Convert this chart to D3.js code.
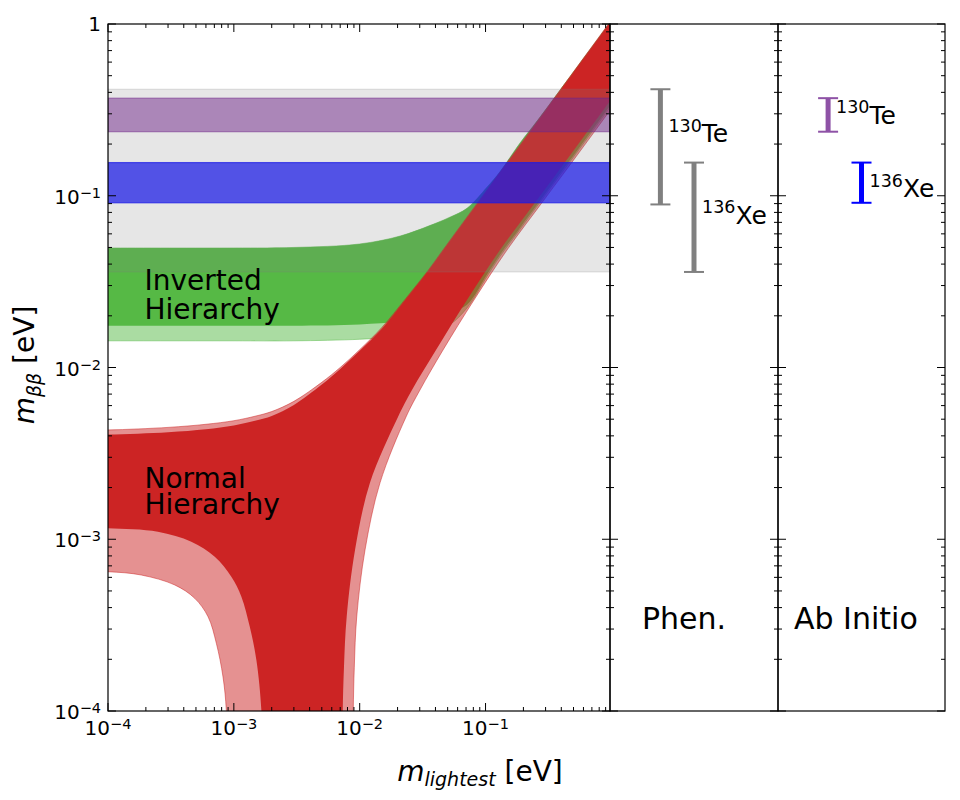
<!DOCTYPE html>
<html><head><meta charset="utf-8">
<script src="https://cdn.jsdelivr.net/npm/d3@7"></script>
<style>body{margin:0;background:#fff} svg{display:block} text{font-family:"DejaVu Sans",sans-serif;fill:#000}</style>
</head><body><svg id="c" width="960" height="800"></svg>
<script>
// ---------------- data ----------------
const isoMass = ["130", "136"];
const isoName = ["Te", "Xe"];
const isoPos = [0.3, 0.5];
const phenLow = [0.089, 0.036];
const phenHigh = [0.417, 0.156];
const abLow = [0.236, 0.091];
const abHigh = [0.370, 0.156];
const phenLabelY = [0.205, 0.0685];
const abLabelY = [0.262, 0.098];
const abColors = ["#8e52a6", "#0000ff"];

// Normal hierarchy band (1 sigma = dark, 3 sigma = light)
const nhUpperX = [1e-4, 3e-4, 6e-4, 1e-3, 1.5e-3, 2e-3, 3e-3, 5e-3, 7e-3, 0.01, 0.015, 0.023, 0.035, 0.046, 0.1, 0.3, 1];
const nhUpper1s = [4.07e-3, 4.2e-3, 4.37e-3, 4.6e-3, 4.91e-3, 5.22e-3, 6.05e-3, 7.95e-3, 9.8e-3, 0.0125, 0.0168, 0.0247, 0.0365, 0.048, 0.1045, 0.313, 1.045];
const nhUpper3s = [4.33e-3, 4.48e-3, 4.67e-3, 4.9e-3, 5.22e-3, 5.54e-3, 6.35e-3, 8.2e-3, 1.0e-2, 0.0127, 0.0171, 0.0250, 0.0368, 0.0485, 0.1055, 0.316, 1.055];
const nhRight1sX = [7.25e-3, 7.33e-3, 7.50e-3, 7.88e-3, 9.18e-3, 0.01207, 0.02015, 0.02603, 0.0404, 0.0712, 0.1302, 0.2563, 0.5044, 0.9748];
const nhRight1sY = [5e-5, 1e-4, 1.80e-4, 3.53e-4, 8.66e-4, 2.13e-3, 5.15e-3, 7.40e-3, 0.01264, 0.02472, 0.04831, 0.09447, 0.1846, 0.3561];
const nhRight3sX = [8.85e-3, 8.89e-3, 9.06e-3, 9.47e-3, 0.01102, 0.0145, 0.02333, 0.03013, 0.04591, 0.08093, 0.1481, 0.2913, 0.5733, 1.0];
const nhRight3sY = [5e-5, 1e-4, 1.80e-4, 3.53e-4, 8.66e-4, 2.13e-3, 5.15e-3, 7.40e-3, 0.01264, 0.02472, 0.04831, 0.09447, 0.1846, 0.322];
const nhLeft1sX = [1.69e-3, 1.655e-3, 1.51e-3, 1.337e-3, 1.148e-3, 9.55e-4, 7.05e-4, 4.59e-4, 2.49e-4, 1e-4];
const nhLeft1sY = [5e-5, 1.01e-4, 1.98e-4, 3.10e-4, 4.63e-4, 6.05e-4, 7.91e-4, 9.68e-4, 1.107e-3, 1.16e-3];
const nhLeft3sX = [8.8e-4, 8.71e-4, 8.2e-4, 7.26e-4, 6.24e-4, 4.89e-4, 3.39e-4, 1.84e-4, 1e-4];
const nhLeft3sY = [5e-5, 1.01e-4, 1.58e-4, 2.48e-4, 3.54e-4, 4.53e-4, 5.42e-4, 6.19e-4, 6.47e-4];

// Inverted hierarchy band
const ihX = [1e-4, 1e-3, 3e-3, 0.01, 0.021, 0.036, 0.052, 0.0712, 0.103, 0.1302, 0.188, 0.2563, 0.392, 0.5044, 0.943, 1.0];
const ihUpper = [0.0497, 0.0497, 0.0500, 0.0524, 0.0583, 0.0670, 0.0750, 0.0845, 0.1124, 0.138, 0.2028, 0.272, 0.413, 0.530, 0.987, 1.046];
const ihLower1s = [0.0175, 0.0175, 0.0175, 0.0178, 0.0185, 0.0196, 0.0210, 0.0232, 0.0349, 0.0453, 0.0652, 0.0886, 0.1350, 0.173, 0.323, 0.343];
const ihLower3s = [0.0143, 0.0143, 0.0143, 0.0146, 0.0152, 0.0163, 0.0178, 0.0222, 0.0340, 0.0443, 0.0638, 0.0868, 0.1322, 0.1695, 0.316, 0.336];

const xMajor = [1e-4, 1e-3, 1e-2, 1e-1];
const yMajor = [1e-4, 1e-3, 1e-2, 1e-1, 1];
const xTickExp = ["−4", "−3", "−2", "−1"];
const yTickExp = ["−4", "−3", "−2", "−1", null];

// ---------------- layout ----------------
const L = 108, R = 610, T = 24, B = 711;
const P2L = 610, P2R = 778, P3L = 778, P3R = 945;
const svg = d3.select("#c");
const x = d3.scaleLog().domain([1e-4, 0.975]).range([L, R]);
const y = d3.scaleLog().domain([1e-4, 1]).range([B, T]);
const xp2 = d3.scaleLinear().domain([0, 1]).range([P2L, P2R]);
const xp3 = d3.scaleLinear().domain([0, 1]).range([P3L, P3R]);

svg.append("defs").append("clipPath").attr("id", "clipMain")
  .append("rect").attr("x", L).attr("y", T).attr("width", R - L).attr("height", B - T);

const zip = (a, b) => a.map((v, i) => [v, b[i]]);
const extL = pts => [[pts[0][0] / 2, pts[0][1]], ...pts];
const extR = pts => { const l = pts[pts.length - 1]; return [...pts, [l[0] * 1.5, l[1] * 1.5]]; };
const line = d3.line().x(d => x(d[0])).y(d => y(d[1])).curve(d3.curveCatmullRom.alpha(0.5));
const poly = segs => segs.map((s, i) => i ? line(s).replace(/^M/, "L") : line(s)).join("") + "Z";

const g = svg.append("g").attr("clip-path", "url(#clipMain)");

const RED = "#cc2424", GREEN = "#56b945";
// IH band
const ihUp = extR(extL(zip(ihX, ihUpper)));
g.append("path").attr("d", poly([ihUp, extR(extL(zip(ihX, ihLower3s))).reverse()]))
  .attr("fill", GREEN).attr("fill-opacity", 0.5).attr("stroke", GREEN).attr("stroke-opacity", 0.5).attr("stroke-width", 1);
g.append("path").attr("d", poly([ihUp, extR(extL(zip(ihX, ihLower1s))).reverse()]))
  .attr("fill", GREEN);

// NH band
function nhPoly(ux, uy, rx, ry, lx, ly) {
  const up = extR(extL(zip(ux, uy)));
  const right = extR(zip(rx, ry)).reverse();
  const lp = zip(lx, ly); const last = lp[lp.length - 1];
  const left = [...lp, [last[0] / 2, last[1]]];
  return poly([up, right, left]);
}
g.append("path").attr("d", nhPoly(nhUpperX, nhUpper3s, nhRight3sX, nhRight3sY, nhLeft3sX, nhLeft3sY))
  .attr("fill", RED).attr("fill-opacity", 0.5).attr("stroke", RED).attr("stroke-opacity", 0.5).attr("stroke-width", 1);
g.append("path").attr("d", nhPoly(nhUpperX, nhUpper1s, nhRight1sX, nhRight1sY, nhLeft1sX, nhLeft1sY))
  .attr("fill", RED);

// horizontal bands from the NME ranges
function band(lo, hi, col, op) {
  g.append("rect").attr("x", L).attr("width", R - L)
    .attr("y", y(hi)).attr("height", y(lo) - y(hi))
    .attr("fill", col).attr("fill-opacity", op)
    .attr("stroke", col).attr("stroke-opacity", op).attr("stroke-width", 1.2);
}
band(abLow[0], abHigh[0], "#6d118d", 0.5);
band(abLow[1], abHigh[1], "#0000ff", 0.72);
band(d3.min(phenLow), d3.max(phenHigh), "#808080", 0.2);

// labels in main panel
function multi(lines, xs, ys) {
  lines.forEach((t, i) => svg.append("text").attr("x", xs).attr("y", ys[i]).attr("font-size", 28).text(t));
}
multi(["Inverted", "Hierarchy"], 144.5, [289.5, 318.5]);
multi(["Normal", "Hierarchy"], 144.5, [487.5, 513.5]);

// ---------------- error bars ----------------
function errorbars(sc, lo, hi, cols, labY) {
  lo.forEach((l, i) => {
    const cx = sc(isoPos[i]), col = cols[i];
    svg.append("line").attr("x1", cx).attr("x2", cx).attr("y1", y(l)).attr("y2", y(hi[i]))
      .attr("stroke", col).attr("stroke-width", 5);
    [l, hi[i]].forEach(v => svg.append("line").attr("x1", cx - 10).attr("x2", cx + 10)
      .attr("y1", y(v)).attr("y2", y(v)).attr("stroke", col).attr("stroke-width", 2));
    const t = svg.append("text").attr("x", cx + 8).attr("y", y(labY[i]));
    t.append("tspan").attr("font-size", 17.5).attr("dy", -10.6).text(isoMass[i]);
    t.append("tspan").attr("font-size", 25).attr("dy", 10.6).text(isoName[i]);
  });
}
errorbars(xp2, phenLow, phenHigh, ["#808080", "#808080"], phenLabelY);
errorbars(xp3, abLow, abHigh, abColors, abLabelY);

svg.append("text").attr("x", 642).attr("y", 629).attr("font-size", 30).text("Phen.");
svg.append("text").attr("x", 794).attr("y", 629).attr("font-size", 30).text("Ab Initio");

// ---------------- ticks & frames ----------------
const tg = svg.append("g").attr("stroke", "#000").attr("stroke-width", 1);
const isMajor = v => Math.abs(Math.log10(v) - Math.round(Math.log10(v))) < 1e-9;
const xTicks = x.ticks().filter(v => v >= 1e-4 && v <= 0.975);
xTicks.forEach(v => {
  const len = isMajor(v) ? 8 : 4, px = x(v);
  tg.append("line").attr("x1", px).attr("x2", px).attr("y1", B).attr("y2", B - len);
  tg.append("line").attr("x1", px).attr("x2", px).attr("y1", T).attr("y2", T + len);
});
const yTicks = y.ticks().filter(v => v >= 1e-4 && v <= 1);
yTicks.forEach(v => {
  const len = isMajor(v) ? 8 : 4, py = y(v);
  [[L, 1], [R, -1], [P2L, 1], [P2R, -1], [P3L, 1], [P3R, -1]].forEach(([sx, dir]) =>
    tg.append("line").attr("x1", sx).attr("x2", sx + dir * len).attr("y1", py).attr("y2", py));
});
[[L, R], [P2L, P2R], [P3L, P3R]].forEach(([a, b]) =>
  svg.append("rect").attr("x", a).attr("y", T).attr("width", b - a).attr("height", B - T)
    .attr("fill", "none").attr("stroke", "#000").attr("stroke-width", 1.2));

// tick labels
xMajor.forEach((v, i) => {
  const t = svg.append("text").attr("x", x(v)).attr("y", 735).attr("text-anchor", "middle").attr("font-size", 20);
  t.append("tspan").text("10");
  t.append("tspan").attr("font-size", 14.5).attr("dy", -6).text(xTickExp[i]);
});
yMajor.forEach((v, i) => {
  const t = svg.append("text").attr("x", 101).attr("y", y(v) + (yTickExp[i] ? 8 : 7))
    .attr("text-anchor", "end").attr("font-size", 20);
  if (yTickExp[i]) {
    t.append("tspan").text("10");
    t.append("tspan").attr("font-size", 14.5).attr("dy", -6).text(yTickExp[i]);
  } else t.text("1");
});

// axis titles
const yl = svg.append("text").attr("transform", "translate(34,365) rotate(-90)").attr("text-anchor", "middle").attr("font-size", 28);
yl.append("tspan").attr("font-style", "italic").text("m");
yl.append("tspan").attr("font-style", "italic").attr("font-size", 19).attr("dy", 7).text("ββ");
yl.append("tspan").attr("dy", -7).text(" [eV]");
const xl = svg.append("text").attr("x", 480).attr("y", 781).attr("text-anchor", "middle").attr("font-size", 28);
xl.append("tspan").attr("font-style", "italic").text("m");
xl.append("tspan").attr("font-style", "italic").attr("font-size", 19).attr("dy", 5).text("lightest");
xl.append("tspan").attr("dy", -5).text(" [eV]");
</script></body></html>
